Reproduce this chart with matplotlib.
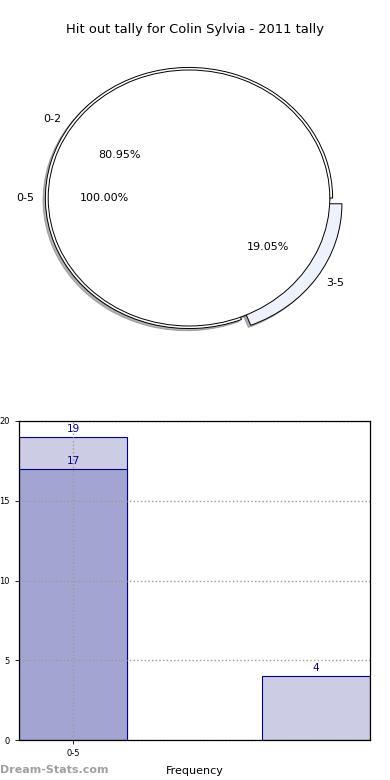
import matplotlib
matplotlib.use("Agg")
import matplotlib.pyplot as plt

# ---- data ----
title = "Hit out tally for Colin Sylvia - 2011 tally"
outer_labels = ["0-5"]
outer_values = [100.0]
inner_labels = ["0-2", "3-5"]
inner_values = [80.95, 19.05]

bar_positions = [0, 1]
bar_tick_labels = ["0-5"]
bar_total = [19, 4]
bar_part = [17, 0]

fig = plt.figure(figsize=(3.9, 7.8), dpi=100)

shadow_kw = dict(ox=-0.012, oy=-0.012, shade=0.5, alpha=0.6)

# ---- pie ----
axp = fig.add_axes([13/390, (780-358)/780, 352/390, 320/780])
wi, ti, ai = axp.pie(inner_values, labels=inner_labels, explode=[0, 0.08],
                     colors=["white", "#edf2fc"], autopct="%1.2f%%",
                     shadow=shadow_kw, startangle=0, radius=1.02,
                     labeldistance=1.1/1.02, pctdistance=0.6/1.02,
                     wedgeprops=dict(edgecolor="black", linewidth=0.7),
                     textprops=dict(fontsize=8))
wo, to, ao = axp.pie(outer_values, labels=outer_labels, colors=["white"],
                     autopct="%1.2f%%", shadow=shadow_kw, startangle=0,
                     wedgeprops=dict(edgecolor="black", linewidth=0.7),
                     textprops=dict(fontsize=8))
axp.set_aspect("auto")
axp.set_xlim(-1.25, 1.25)
axp.set_ylim(-1.25, 1.25)
fig.text(0.5, 1 - 30/780, title, ha="center", va="center", fontsize=9.4)

# ---- bars ----
axb = fig.add_axes([19/390, 40/780, 351/390, 319/780])
w = 0.446
axb.bar(bar_positions, bar_total, width=w, color="#cccce4",
        edgecolor="#000080", linewidth=0.8, zorder=1)
axb.bar(bar_positions[:1], bar_part[:1], width=w, color="#a2a5d1",
        edgecolor="#000080", linewidth=0.8, zorder=1)
for x, v in zip(bar_positions, bar_total):
    axb.text(x, v + 0.2, str(v), ha="center", va="bottom",
             fontsize=7.5, color="#000080", zorder=3)
axb.text(bar_positions[0], bar_part[0] + 0.2, str(bar_part[0]), ha="center",
         va="bottom", fontsize=7.5, color="#000080", zorder=3)
axb.set_xlim(-w/2, 1 + w/2)
axb.set_ylim(0, 20)
axb.set_yticks([0, 5, 10, 15, 20])
axb.set_xticks(bar_positions[:1])
axb.set_xticklabels(bar_tick_labels)
axb.tick_params(labelsize=6, length=3, width=0.6)
axb.set_axisbelow(False)
axb.grid(True, linestyle=":", color="#999999", linewidth=1.0, zorder=2)
axb.set_xlabel("Frequency", fontsize=8, labelpad=6)
axb.set_ylabel("Scores in bins", fontsize=7, labelpad=12)
for s in axb.spines.values():
    s.set_linewidth(0.9)
    s.set_zorder(4)

fig.text(0.0, 1 - 770/780, "Dream-Stats.com", ha="left", va="center",
         fontsize=8, fontweight="bold", color="#a0a0a0")

fig.savefig("out.png", dpi=100)
